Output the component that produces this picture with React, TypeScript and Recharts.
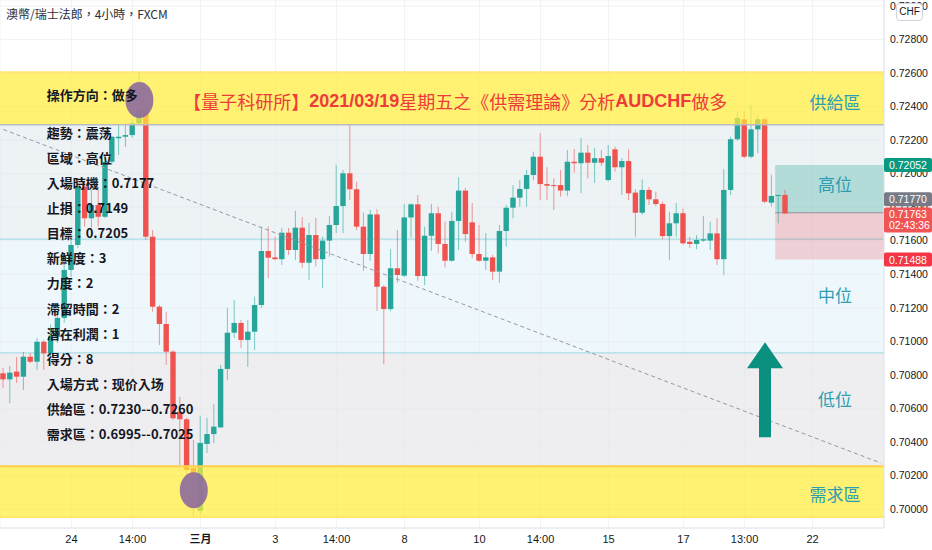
import React from 'react';
import {
  ComposedChart,
  Bar,
  XAxis,
  YAxis,
  CartesianGrid,
  ReferenceArea,
  ReferenceLine,
  ReferenceDot,
} from 'recharts';

// AUDCHF 4h candles, one per slot; the slots after the last candle stay empty
const opens = [
  0.7081, 0.70774, 0.7082, 0.7079, 0.70909, 0.70879, 0.70998, 0.70929, 0.71028, 0.7114,
  0.71426, 0.71575, 0.71922, 0.71734, 0.71813, 0.71743, 0.72071, 0.72211, 0.7222, 0.7223,
  0.723, 0.72379, 0.71624, 0.71207, 0.71104, 0.70939, 0.70581, 0.70536, 0.70246, 0.6999,
  0.70389, 0.70448, 0.70488, 0.70836, 0.71052, 0.7111, 0.71009, 0.71058, 0.71217, 0.71539,
  0.71501, 0.7149, 0.71648, 0.71545, 0.71678, 0.71469, 0.71634, 0.7149, 0.71601, 0.71694,
  0.71807, 0.72002, 0.71907, 0.71684, 0.71521, 0.71757, 0.71326, 0.71193, 0.71436, 0.71392,
  0.71739, 0.71817, 0.7139, 0.7163, 0.71764, 0.71581, 0.71481, 0.71718, 0.71899, 0.7171,
  0.71521, 0.71481, 0.71501, 0.71416, 0.71658, 0.71797, 0.71857, 0.71909, 0.71992, 0.72101,
  0.71938, 0.71932, 0.71932, 0.71899, 0.72071, 0.72062, 0.72125, 0.72065, 0.72092, 0.71962,
  0.72145, 0.72038, 0.72075, 0.71887, 0.71767, 0.71903, 0.71847, 0.71819, 0.71628, 0.71704,
  0.71764, 0.71594, 0.71581, 0.71601, 0.71601, 0.71644, 0.7149, 0.71903, 0.72205, 0.72324,
  0.72101, 0.72264, 0.72324, 0.71827, 0.71867, 0.71873,
];
const highs = [
  0.70842, 0.70854, 0.70907, 0.70937, 0.70931, 0.7102, 0.71009, 0.711, 0.71175, 0.71456,
  0.71605, 0.71944, 0.71952, 0.71903, 0.71903, 0.72111, 0.72224, 0.7229, 0.72302, 0.7232,
  0.726, 0.72409, 0.71664, 0.71217, 0.71177, 0.70949, 0.7067, 0.70544, 0.70413, 0.70556,
  0.70544, 0.70627, 0.7086, 0.71199, 0.71247, 0.71128, 0.71128, 0.71267, 0.71684, 0.71684,
  0.71624, 0.71676, 0.71676, 0.71779, 0.71741, 0.71706, 0.71736, 0.71624, 0.71748, 0.72052,
  0.72022, 0.7229, 0.71952, 0.71767, 0.71783, 0.71789, 0.71336, 0.7155, 0.71664, 0.71819,
  0.71823, 0.71873, 0.71684, 0.71819, 0.71803, 0.71714, 0.71773, 0.71978, 0.71915, 0.71825,
  0.71694, 0.71646, 0.71515, 0.71694, 0.71813, 0.71932, 0.71962, 0.72022, 0.72131, 0.72241,
  0.72038, 0.71972, 0.72022, 0.72141, 0.72147, 0.72213, 0.72171, 0.72153, 0.72141, 0.72171,
  0.72161, 0.72092, 0.72145, 0.71907, 0.71966, 0.7192, 0.71892, 0.71833, 0.71773, 0.71825,
  0.71793, 0.71624, 0.71634, 0.71748, 0.71714, 0.71734, 0.72026, 0.7222, 0.72369, 0.72369,
  0.72409, 0.7235, 0.72332, 0.71992, 0.71873, 0.71903,
];
const lows = [
  0.70722, 0.70632, 0.70752, 0.70711, 0.70871, 0.7083, 0.7083, 0.70907, 0.70991, 0.7111,
  0.71384, 0.71557, 0.71684, 0.71676, 0.71684, 0.71736, 0.72052, 0.72111, 0.72159, 0.72213,
  0.7229, 0.71605, 0.71177, 0.70979, 0.7086, 0.70532, 0.70264, 0.70174, 0.69948, 0.69966,
  0.70335, 0.70395, 0.70484, 0.7077, 0.7102, 0.70961, 0.70848, 0.70949, 0.71199, 0.71378,
  0.71485, 0.71456, 0.71515, 0.71485, 0.71438, 0.71366, 0.71446, 0.71318, 0.71505, 0.71646,
  0.71646, 0.71843, 0.71664, 0.71421, 0.71481, 0.71183, 0.70864, 0.7118, 0.7135, 0.71384,
  0.71618, 0.71362, 0.71336, 0.7154, 0.71525, 0.71441, 0.71475, 0.71545, 0.71594, 0.71495,
  0.71475, 0.71426, 0.71366, 0.7135, 0.71565, 0.71734, 0.71803, 0.71803, 0.71962, 0.71843,
  0.71843, 0.71783, 0.71863, 0.71867, 0.72004, 0.71883, 0.71972, 0.71944, 0.72046, 0.71952,
  0.72012, 0.71873, 0.71843, 0.71624, 0.71754, 0.71813, 0.71807, 0.71609, 0.71485, 0.71624,
  0.71575, 0.71557, 0.71549, 0.71594, 0.71545, 0.71456, 0.71396, 0.71873, 0.72195, 0.72092,
  0.72092, 0.72121, 0.71825, 0.71803, 0.71704, 0.7176,
];
const closes = [
  0.70774, 0.70814, 0.7079, 0.70909, 0.70879, 0.70998, 0.70929, 0.71028, 0.7114, 0.71426,
  0.71575, 0.71922, 0.71734, 0.71813, 0.71743, 0.72071, 0.7222, 0.7222, 0.7223, 0.723,
  0.72379, 0.71624, 0.71207, 0.71104, 0.70939, 0.70542, 0.70536, 0.70234, 0.70216, 0.70395,
  0.70448, 0.70492, 0.70836, 0.71052, 0.7111, 0.71009, 0.71058, 0.71217, 0.71539, 0.71499,
  0.7149, 0.71648, 0.71545, 0.71678, 0.71469, 0.71634, 0.7149, 0.71601, 0.71694, 0.71807,
  0.72002, 0.71907, 0.71684, 0.71521, 0.71757, 0.71326, 0.71193, 0.71436, 0.71396, 0.71739,
  0.71817, 0.7139, 0.7163, 0.71764, 0.71581, 0.71481, 0.71718, 0.71899, 0.7164, 0.71521,
  0.71481, 0.71501, 0.71416, 0.71658, 0.71797, 0.71857, 0.71909, 0.71992, 0.72101, 0.71938,
  0.71928, 0.71926, 0.71899, 0.72071, 0.72062, 0.72125, 0.72065, 0.72092, 0.72065, 0.72105,
  0.72038, 0.72075, 0.71883, 0.71767, 0.71903, 0.71847, 0.71819, 0.71628, 0.71704, 0.71764,
  0.71585, 0.71581, 0.71605, 0.71609, 0.71644, 0.7149, 0.71903, 0.72205, 0.72332, 0.72101,
  0.72264, 0.72324, 0.71833, 0.71867, 0.71873, 0.71763,
];
const SLOT_COUNT = 130;

const tickSlots = [10, 19, 29, 40, 49, 59, 70, 79, 89, 100, 109, 119];
const tickLabels = ['24', '14:00', '三月', '3', '14:00', '8', '10', '14:00', '15', '17', '13:00', '22'];
const priceTicks = [
  0.7, 0.702, 0.704, 0.706, 0.708, 0.71, 0.712, 0.714, 0.716, 0.718, 0.72, 0.722, 0.724, 0.726,
  0.728, 0.73,
];

// supply / demand zones and the three bands between them
const supplyZone = [0.72292, 0.72606];
const demandZone = [0.69952, 0.70256];
const highZone = [0.7161, 0.72292];
const midZone = [0.70932, 0.7161];
const lowZone = [0.70256, 0.70932];

// long position drawn from slot 114
const positionStart = 114;
const targetPrice = 0.72052;
const entryPrice = 0.7177;
const stopPrice = 0.71488;
const lastPrice = 0.71763;

const trendStart = { x: 0, y: 0.72263 };
const trendEnd = { x: 129, y: 0.70276 };

const zoneLabels = [
  { text: '供給區', price: 0.72428 },
  { text: '高位', price: 0.71944 },
  { text: '中位', price: 0.71277 },
  { text: '低位', price: 0.70661 },
  { text: '需求區', price: 0.70095 },
];

const infoLines = [
  '操作方向：做多',
  '趨勢：震荡',
  '區域：高位',
  '入場時機：0.7177',
  '止損：0.7149',
  '目標：0.7205',
  '新鮮度：3',
  '力度：2',
  '滯留時間：2',
  '潛在利潤：1',
  '得分：8',
  '入場方式：现价入场',
  '供給區：0.7230--0.7260',
  '需求區：0.6995--0.7025',
];

const titleParts = [
  { text: '【量子科研所】', latin: false },
  { text: '2021/03/19', latin: true },
  { text: '星期五之《供需理論》分析', latin: false },
  { text: 'AUDCHF', latin: true },
  { text: '做多', latin: false },
];

const SANS = '"Liberation Sans", Arial, sans-serif';
const CJK = '"Noto Sans CJK TC", "Noto Sans CJK SC", sans-serif';
const UP = '#26A69A';
const DOWN = '#EF5350';
const ZONE_TEXT = '#2C9DB3';

const rows = Array.from({ length: SLOT_COUNT }, (_, j) =>
  j < opens.length
    ? { j, range: [lows[j], highs[j]], open: opens[j], high: highs[j], low: lows[j], close: closes[j] }
    : { j, range: null },
);
const labelBySlot = new Map(tickSlots.map((s, i) => [s, tickLabels[i]]));

const Candle = (props: any) => {
  const { x, y, width, height, payload } = props;
  if (!payload || payload.open == null || height == null) return null;
  const { open, close, high, low } = payload;
  const color = close >= open ? UP : DOWN;
  const top = Math.min(y, y + height);
  const h = Math.abs(height);
  const span = high - low || 1e-9;
  const py = (v: number) => top + ((high - v) / span) * h;
  const bodyTop = py(Math.max(open, close));
  const bodyBottom = py(Math.min(open, close));
  const cx = x + width / 2;
  const bw = 5.4;
  return (
    <g>
      <line x1={cx} x2={cx} y1={top} y2={top + h} stroke={color} strokeOpacity={0.6} strokeWidth={1} />
      <rect x={cx - bw / 2} y={bodyTop} width={bw} height={Math.max(1, bodyBottom - bodyTop)} fill={color} />
    </g>
  );
};

const TimeTick = ({ x, y, payload }: any) => {
  const label = labelBySlot.get(payload.value) ?? '';
  return (
    <text
      x={x}
      y={y + 7}
      textAnchor="middle"
      fontSize={11}
      fill="#131722"
      fontFamily={label === '三月' ? CJK : SANS}
      fontWeight={label === '三月' ? 700 : 400}
    >
      {label}
    </text>
  );
};

const Arrow = ({ cx, cy }: any) => (
  <polygon
    points={`${cx},${cy} ${cx + 18},${cy + 26} ${cx + 6},${cy + 26} ${cx + 6},${cy + 95} ${cx - 6},${cy + 95} ${cx - 6},${cy + 26} ${cx - 18},${cy + 26}`}
    fill="#0B8F7E"
  />
);

const Ellipse = ({ cx, cy }: any) => <ellipse cx={cx} cy={cy} rx={14} ry={18} fill="#8A679E" fillOpacity={0.88} />;

const ZoneLabel = (text: string) => ({ cx, cy }: any) => (
  <text x={cx + 2} y={cy} textAnchor="middle" dominantBaseline="central" fontSize={17} fill={ZONE_TEXT} fontFamily={CJK}>
    {text}
  </text>
);

const Title = ({ cx, cy }: any) => (
  <text x={cx + 3} y={cy} dominantBaseline="central" fontSize={18} fill="#EE3B3B">
    {titleParts.map((p, i) => (
      <tspan key={i} fontFamily={p.latin ? SANS : CJK} fontWeight={p.latin ? 700 : 400}>
        {p.text}
      </tspan>
    ))}
  </text>
);

const InfoPanel = ({ cx, cy }: any) => (
  <g>
    {infoLines.map((line, k) => (
      <text
        key={k}
        x={cx + 2.5}
        y={cy + (k === 0 ? 0 : 37.7 + (k - 1) * 25.05)}
        dominantBaseline="central"
        fontSize={13}
        fontWeight={700}
        fill="#131722"
        fontFamily={CJK}
      >
        {line}
      </text>
    ))}
  </g>
);

// price badge drawn in the axis strip, right of the plot edge
const Badge = (label: string, color: string, shift: number, sub?: string) => ({ cx, cy }: any) => {
  const left = cx + 3.4;
  const h = sub ? 25 : 14;
  const top = cy + shift - 7;
  return (
    <g>
      <rect x={left} y={top} width={48} height={h} rx={2} fill={color} />
      <text x={left + 5} y={top + 7} dominantBaseline="central" fontSize={10.5} fill="#fff" fontFamily={SANS}>
        {label}
      </text>
      {sub && (
        <text x={left + 5} y={top + 18} dominantBaseline="central" fontSize={10.5} fill="#fff" fontFamily={SANS}>
          {sub}
        </text>
      )}
    </g>
  );
};

export default function App() {
  return (
    <div style={{ position: 'fixed', left: 0, top: 0, width: 932, height: 550, background: '#fff', fontFamily: SANS }}>
      <style>{'body{margin:0}'}</style>
      <ComposedChart width={932} height={550} data={rows} margin={{ top: 0, right: 0, bottom: 0, left: 0 }} barCategoryGap={0}>
        <ReferenceArea y1={highZone[0]} y2={highZone[1]} fill="#EDF2F5" fillOpacity={1} zIndex={-60} />
        <ReferenceArea y1={midZone[0]} y2={midZone[1]} fill="#EEF8FC" fillOpacity={1} zIndex={-60} />
        <ReferenceArea y1={lowZone[0]} y2={lowZone[1]} fill="#EEEEF1" fillOpacity={1} zIndex={-60} />
        <CartesianGrid stroke="#E6E9EF" strokeOpacity={0.6} zIndex={-50} />
        <XAxis
          dataKey="j"
          type="category"
          height={22}
          ticks={tickSlots}
          interval={0}
          tick={<TimeTick />}
          tickLine={false}
          axisLine={{ stroke: '#E0E3EB' }}
        />
        <YAxis
          orientation="right"
          width={48}
          domain={[0.69888, 0.73035]}
          allowDataOverflow
          ticks={priceTicks}
          tickFormatter={(v: number) => v.toFixed(5)}
          tick={{ fontSize: 10.5, fill: '#131722' }}
          tickLine={false}
          tickMargin={0}
          axisLine={{ stroke: '#E0E3EB' }}
        />
        <ReferenceLine y={highZone[0]} stroke="#A9DDE6" strokeWidth={1.2} zIndex={-40} />
        <ReferenceLine y={midZone[0]} stroke="#A9DDE6" strokeWidth={1.2} zIndex={-40} />
        <ReferenceArea x1={positionStart} x2={SLOT_COUNT - 1} y1={entryPrice} y2={targetPrice} fill="#089981" fillOpacity={0.25} zIndex={-30} />
        <ReferenceArea x1={positionStart} x2={SLOT_COUNT - 1} y1={stopPrice} y2={entryPrice} fill="#F23645" fillOpacity={0.2} zIndex={-30} />
        <ReferenceArea x1={positionStart} x2={SLOT_COUNT - 1} y1={entryPrice - 0.00006} y2={entryPrice} fill="#8F929B" fillOpacity={1} zIndex={-30} />
        <Bar dataKey="range" barSize={6} shape={<Candle />} isAnimationActive={false} />
        <ReferenceArea y1={supplyZone[0]} y2={supplyZone[1]} fill="#FFEB3B" fillOpacity={0.72} zIndex={350} />
        <ReferenceArea y1={demandZone[0]} y2={demandZone[1]} fill="#FFEB3B" fillOpacity={0.72} zIndex={350} />
        <ReferenceLine y={supplyZone[1]} stroke="#FFE27A" strokeWidth={1.5} zIndex={360} />
        <ReferenceLine y={supplyZone[0]} stroke="#B9BCC4" strokeWidth={1.5} zIndex={360} />
        <ReferenceLine y={demandZone[1]} stroke="#FFCF4D" strokeWidth={2} zIndex={360} />
        <ReferenceLine y={demandZone[0]} stroke="#FFE46B" strokeWidth={1.5} zIndex={360} />
        <ReferenceLine segment={[trendStart, trendEnd]} stroke="#9598A1" strokeDasharray="4 3" zIndex={370} />
        <ReferenceDot x={20} y={0.72439} shape={<Ellipse />} zIndex={2500} />
        <ReferenceDot x={28} y={0.70113} shape={<Ellipse />} zIndex={2500} />
        <ReferenceDot x={112} y={0.70995} shape={<Arrow />} zIndex={2500} />
        <ReferenceDot x={26} y={0.72433} shape={<Title />} zIndex={2500} />
        <ReferenceDot x={6} y={0.72469} shape={<InfoPanel />} zIndex={2500} />
        {zoneLabels.map((z) => (
          <ReferenceDot key={z.text} x={122} y={z.price} shape={ZoneLabel(z.text)} zIndex={2500} />
        ))}
        <ReferenceDot x={SLOT_COUNT - 1} y={targetPrice} shape={Badge(targetPrice.toFixed(5), '#089981', 0)} zIndex={2600} />
        <ReferenceDot x={SLOT_COUNT - 1} y={entryPrice} shape={Badge(entryPrice.toFixed(5), '#787B86', -13)} zIndex={2600} />
        <ReferenceDot x={SLOT_COUNT - 1} y={lastPrice} shape={Badge(lastPrice.toFixed(5), '#F05454', 1, '02:43:36')} zIndex={2600} />
        <ReferenceDot x={SLOT_COUNT - 1} y={stopPrice} shape={Badge(stopPrice.toFixed(5), '#F23645', 0)} zIndex={2600} />
      </ComposedChart>
      <div style={{ position: 'absolute', left: 6, top: 6, fontSize: 12, color: '#2A2E39', fontFamily: CJK, lineHeight: '16px' }}>
        澳幣/瑞士法郎，4小時，FXCM
      </div>
      <div
        style={{
          position: 'absolute',
          left: 896,
          top: 3,
          width: 25,
          height: 16,
          border: '1px solid #D1D4DC',
          borderRadius: 4,
          background: '#fff',
          fontSize: 10,
          lineHeight: '16px',
          textAlign: 'center',
          color: '#131722',
        }}
      >
        CHF
      </div>
    </div>
  );
}
